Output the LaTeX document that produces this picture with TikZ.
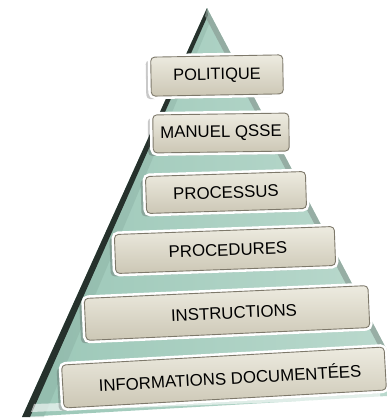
\documentclass[tikz,border=0pt]{standalone}
\usepackage{fontspec}
\setmainfont{Liberation Sans}
\usetikzlibrary{shadows}
\definecolor{mintL}{HTML}{9BC7B7}
\definecolor{mintR}{HTML}{BAD9CD}
\definecolor{darkedge}{HTML}{26312C}
\definecolor{rightedge}{HTML}{8A9D95}
\definecolor{boxtop}{HTML}{EDEBE0}
\definecolor{boxbot}{HTML}{CCC7B5}
\definecolor{boxedge}{HTML}{7E796B}
\begin{document}
\begin{tikzpicture}[x=1bp,y=1bp,
  stepbox/.style={draw=boxedge, line width=0.9bp, rounded corners=4bp,
    top color=boxtop, bottom color=boxbot, inner sep=0pt,
    font=\fontsize{16.8bp}{19bp}\selectfont, text=black,
    drop shadow={shadow xshift=-5bp, shadow yshift=-3bp, opacity=0.3, fill=black!70},
    preaction={draw=white, line width=6bp}},
  face/.style={left color=mintL, right color=mintR}
]
\useasboundingbox (0,0) rectangle (387,-418);
\begin{scope}
\clip (0,0) rectangle (387,-418);
% pyramid main face
\path[face] (207,-8) -- (22,-417) -- (387,-396) -- (387,-350) -- cycle;
% left side band
\fill[mintL!85!black, opacity=0.35] (208,-14) -- (29,-417) -- (44,-417) -- (210,-22) -- cycle;
% left dark edge
\fill[darkedge] (207,-8) -- (22,-417) -- (30,-417) -- (208,-15) -- cycle;
% right edge strip
\fill[rightedge, opacity=0.7] (207,-8) -- (387,-350) -- (387,-362) -- (205,-16) -- cycle;
% bottom ledge
\fill[white, opacity=0.6] (34,-404) -- (380,-392) -- (380,-398) -- (31,-412) -- cycle;
\end{scope}
% steps
\node[stepbox, minimum width=132bp, minimum height=39bp, rotate=1, font=\fontsize{16.4bp}{19bp}\selectfont] (p1) at (217,-75.5) {POLITIQUE};
\node[stepbox, minimum width=136bp, minimum height=38bp, rotate=0.8] (p2) at (221,-133) {MANUEL QSSE};
\node[stepbox, minimum width=160bp, minimum height=37bp, rotate=1.8] (p3) at (226,-192.5) {PROCESSUS};
\node[stepbox, minimum width=220bp, minimum height=39bp, rotate=2.1] (p4) at (225,-250) {\hspace*{6bp}PROCEDURES};
\node[stepbox, minimum width=284bp, minimum height=42bp, rotate=2.6] (p5) at (227,-313) {\hspace*{14bp}INSTRUCTIONS};
\node[stepbox, minimum width=323bp, minimum height=43bp, rotate=3.2] (p6) at (224,-377.5) {\hspace*{12bp}INFORMATIONS DOCUMENTÉES};
\end{tikzpicture}
\end{document}
